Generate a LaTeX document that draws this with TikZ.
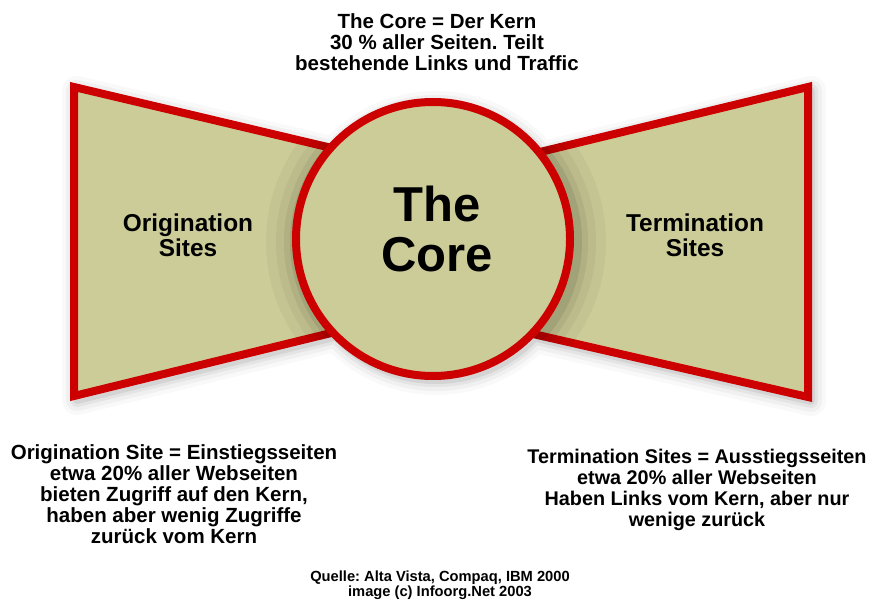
\documentclass[tikz,border=0pt]{standalone}
\usepackage{fontspec}
\setmainfont{Liberation Sans}
\usepackage{tikz}
\usetikzlibrary{positioning}
\frenchspacing

\definecolor{khaki}{HTML}{CCCC99}
\definecolor{bowred}{HTML}{CC0000}

\tikzset{
	wing/.style={draw=bowred, fill=khaki, line width=8pt, line join=miter},
	corecircle/.style={circle, draw=bowred, fill=khaki, line width=8pt, minimum size=274pt, inner sep=0pt},
	caption/.style={align=center, font=\fontsize{20.5}{21}\selectfont\bfseries},
	winglabel/.style={align=center, font=\fontsize{24.4}{25}\selectfont\bfseries}
}

\begin{document}
\begin{tikzpicture}[x=1pt, y=-1pt]
	\useasboundingbox (0,0) rectangle (883,601);
	
	% soft shadow under the bow
	\foreach \w/\o in {30/0.025, 22/0.035, 14/0.05, 8/0.07}{
		\begin{scope}[transparency group, opacity=\o, shift={(3,4)}]
			\draw[line width=\w pt, line join=round] (74,87) -- (433,172) -- (433,308) -- (74,396) -- cycle;
			\draw[line width=\w pt, line join=round] (808,87) -- (433,178) -- (433,311) -- (808,397) -- cycle;
			\draw[line width=\w pt] (433,239) circle (137);
		\end{scope}
	}
	
	% wings
	\draw[wing] (74,87) -- (433,172) -- (433,308) -- (74,396) -- cycle;
	\draw[wing] (808,87) -- (433,178) -- (433,311) -- (808,397) -- cycle;
	
	% shade of the core on the wings
	\begin{scope}
		\clip (70,83) -- (437,168) -- (437,312) -- (70,400) -- cycle
			(812,83) -- (429,174) -- (429,315) -- (812,401) -- cycle;
		\foreach \r/\o in {170/0.035, 160/0.045, 152/0.06, 146/0.08}
			\fill[black, opacity=\o] (436,242) circle (\r);
	\end{scope}
	
	% the core
	\node[corecircle] (core) at (433,239) {};
	\node[align=center, font=\fontsize{49}{50}\selectfont\bfseries] (coretitle) at (437,229) {The\\Core};
	
	% labels
	\node[winglabel] (origin) at (188,235) {Origination\\Sites};
	\node[winglabel] (termin) at (695,235) {Termination\\Sites};
	
	\node[caption] (corenote) at (437,42) {The Core = Der Kern\\30 \% aller Seiten. Teilt\\bestehende Links und Traffic};
	\node[caption] (originnote) at (174,494) {Origination Site = Einstiegsseiten\\etwa 20\% aller Webseiten\\bieten Zugriff auf den Kern,\\haben aber wenig Zugriffe\\zurück vom Kern};
	\node[caption, font=\fontsize{19.8}{21}\selectfont\bfseries] (terminnote) at (697,490) {Termination Sites = Ausstiegsseiten\\etwa 20\% aller Webseiten\\Haben Links vom Kern, aber nur\\wenige zurück};
	
	\node[align=center, font=\fontsize{14.7}{15}\selectfont\bfseries] (source) at (440,585) {Quelle: Alta Vista, Compaq, IBM 2000\\image (c) Infoorg.Net 2003};
\end{tikzpicture}
\end{document}
